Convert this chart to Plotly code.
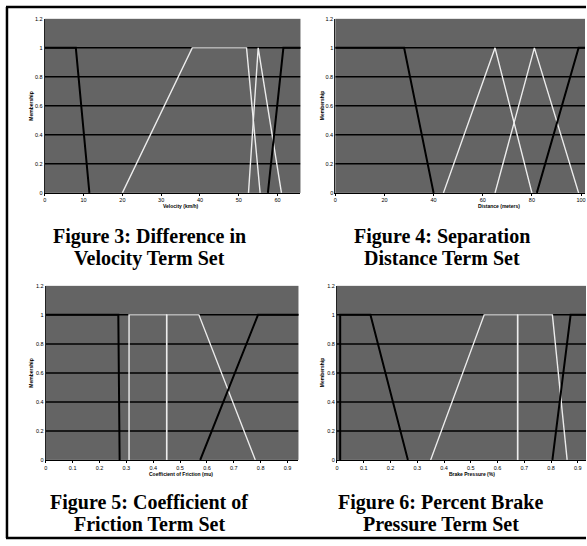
import plotly.graph_objects as go

W, H = 587, 546

# ---------------- data (membership functions) ----------------
# Figure 3: Difference in velocity (km/h)
vel_set1_x = [0, 8, 11.5]
vel_set1_y = [1, 1, 0]
vel_set2_x = [20, 38, 52, 55.5]
vel_set2_y = [0, 1, 1, 0]
vel_set3_x = [52.5, 55, 61]
vel_set3_y = [0, 1, 0]
vel_set4_x = [57.5, 61.5, 66]
vel_set4_y = [0, 1, 1]
vel_ticks = [0, 10, 20, 30, 40, 50, 60]

# Figure 4: Separation distance (meters)
dist_set1_x = [0, 28, 40]
dist_set1_y = [1, 1, 0]
dist_set2_x = [44, 65, 80]
dist_set2_y = [0, 1, 0]
dist_set3_x = [65, 81, 99]
dist_set3_y = [0, 1, 0]
dist_set4_x = [82, 99, 102]
dist_set4_y = [0, 1, 1]
dist_ticks = [0, 20, 40, 60, 80, 100]

# Figure 5: Coefficient of friction (mu)
fric_set1_x = [0, 0.27, 0.275]
fric_set1_y = [1, 1, 0]
fric_set2_x = [0.31, 0.31, 0.45, 0.45]
fric_set2_y = [0, 1, 1, 0]
fric_set3_x = [0.45, 0.45, 0.57, 0.78]
fric_set3_y = [0, 1, 1, 0]
fric_set4_x = [0.575, 0.79, 0.95]
fric_set4_y = [0, 1, 1]
frac_ticks = [0, 0.1, 0.2, 0.3, 0.4, 0.5, 0.6, 0.7, 0.8, 0.9]

# Figure 6: Brake pressure (%)
brake_set1_x = [0.012, 0.012, 0.125, 0.265]
brake_set1_y = [0, 1, 1, 0]
brake_set2_x = [0.35, 0.55, 0.675, 0.675]
brake_set2_y = [0, 1, 1, 0]
brake_set3_x = [0.675, 0.675, 0.805, 0.86]
brake_set3_y = [0, 1, 1, 0]
brake_set4_x = [0.805, 0.873, 0.95]
brake_set4_y = [0, 1, 1]

member_ticks = [0, 0.2, 0.4, 0.6, 0.8, 1, 1.2]
member_tick_text = ["0", "0.2", "0.4", "0.6", "0.8", "1", "1.2"]
grid_levels = [0.2, 0.4, 0.6, 0.8, 1.0]

x_titles = ["Velocity (km/h)", "Distance (meters)",
            "Coefficient of Friction (mu)", "Brake Pressure (%)"]
caption_line1 = ["Figure 3: Difference in", "Figure 4: Separation",
                 "Figure 5: Coefficient of", "Figure 6: Percent Brake"]
caption_line2 = ["Velocity Term Set", "Distance Term Set",
                 "Friction Term Set", "Pressure Term Set"]

# ---------------- layout geometry (pixels) ----------------
def px_x(p):
    return p / W

def px_y(p):
    return 1 - p / H

panels = [
    # (x0, x1, ytop, ybottom, xrange, xticks)
    (43, 300, 16, 192, [0, 65.9], vel_ticks),
    (335, 586, 16, 192, [0, 101.6], dist_ticks),
    (44, 298, 286, 462, [0, 0.9407], frac_ticks),
    (336.7, 587, 286, 462, [0, 0.9305], frac_ticks),
]

series = [
    [(vel_set1_x, vel_set1_y, "black"), (vel_set2_x, vel_set2_y, "white"),
     (vel_set3_x, vel_set3_y, "white"), (vel_set4_x, vel_set4_y, "black")],
    [(dist_set1_x, dist_set1_y, "black"), (dist_set2_x, dist_set2_y, "white"),
     (dist_set3_x, dist_set3_y, "white"), (dist_set4_x, dist_set4_y, "black")],
    [(fric_set1_x, fric_set1_y, "black"), (fric_set2_x, fric_set2_y, "white"),
     (fric_set3_x, fric_set3_y, "white"), (fric_set4_x, fric_set4_y, "black")],
    [(brake_set1_x, brake_set1_y, "black"), (brake_set2_x, brake_set2_y, "white"),
     (brake_set3_x, brake_set3_y, "white"), (brake_set4_x, brake_set4_y, "black")],
]

fig = go.Figure()
layout = dict(
    width=W, height=H, margin=dict(l=0, r=0, t=0, b=0),
    paper_bgcolor="white", plot_bgcolor="#646464", showlegend=False,
    font=dict(family="Liberation Sans, Arial, sans-serif", color="black"),
)

annotations = []
shapes = []
tick_font = dict(family="Liberation Sans, Arial, sans-serif", size=5.5, color="black")

x_title_pos = [(180, 205), (500, 205), (180, 476), (472, 476)]
y_title_x = [29, 322, 29, 322]
caption_x = [148, 442, 148, 441]
caption_y1 = [236, 236, 505, 505]
caption_y2 = [258, 258, 527, 527]
serif = dict(size=20, family="Liberation Serif, Times New Roman, serif", color="black")

for i, (x0, x1, yt, yb, xr, xt) in enumerate(panels):
    n = "" if i == 0 else str(i + 1)
    layout["xaxis" + n] = dict(
        domain=[px_x(x0), px_x(x1)], range=xr, anchor="y" + n,
        tickvals=xt, tickfont=tick_font, showgrid=False, zeroline=False,
        showline=True, linecolor="black", linewidth=1,
        ticks="outside", ticklen=2, tickcolor="black", fixedrange=True,
    )
    layout["yaxis" + n] = dict(
        domain=[px_y(yb), px_y(yt)], range=[0, 1.2], anchor="x" + n,
        tickvals=member_ticks, ticktext=member_tick_text, tickfont=tick_font,
        showgrid=False, zeroline=False, showline=True, linecolor="#222",
        linewidth=1, ticks="", fixedrange=True,
    )
    xa = "x" + n
    ya = "y" + n
    for g in grid_levels:
        shapes.append(dict(type="line", xref=xa, yref=ya, x0=xr[0], x1=xr[1],
                           y0=g, y1=g, line=dict(color="black", width=1.5),
                           layer="below"))
    for sx, sy, col in series[i]:
        fig.add_trace(go.Scatter(
            x=sx, y=sy, mode="lines", xaxis=xa, yaxis=ya,
            line=dict(color=col if col == "black" else "#ececec",
                      width=2 if col == "black" else 1.4),
            hoverinfo="skip"))
    tx, ty = x_title_pos[i]
    annotations.append(dict(x=px_x(tx), y=px_y(ty), xref="paper", yref="paper",
                            text="<b>" + x_titles[i] + "</b>", showarrow=False,
                            font=dict(size=5, family="Liberation Sans, Arial"),
                            xanchor="center", yanchor="middle"))
    annotations.append(dict(x=px_x(y_title_x[i]), y=px_y((yt + yb) / 2),
                            xref="paper", yref="paper", text="<b>Membership</b>",
                            textangle=-90, showarrow=False,
                            font=dict(size=5, family="Liberation Sans, Arial"),
                            xanchor="center", yanchor="middle"))
    for line_text, ly in ((caption_line1[i], caption_y1[i]), (caption_line2[i], caption_y2[i])):
        annotations.append(dict(x=px_x(caption_x[i]), y=px_y(ly), xref="paper", yref="paper",
                                text="<b>" + line_text + "</b>", showarrow=False,
                                font=serif, xanchor="center", yanchor="middle"))

# page frame (left, top, bottom)
frame = dict(color="black", width=2.5)
shapes.append(dict(type="line", xref="paper", yref="paper",
                   x0=px_x(5), x1=px_x(5), y0=px_y(4), y1=px_y(541), line=frame))
shapes.append(dict(type="line", xref="paper", yref="paper",
                   x0=px_x(4), x1=1, y0=px_y(4), y1=px_y(4), line=frame))
shapes.append(dict(type="line", xref="paper", yref="paper",
                   x0=px_x(4), x1=1, y0=px_y(541), y1=px_y(541), line=frame))

layout["annotations"] = annotations
layout["shapes"] = shapes
fig.update_layout(**layout)
fig.write_html("out.html", config={"displayModeBar": False},
               post_script="document.body.style.margin='0';document.body.style.overflow='hidden';")
